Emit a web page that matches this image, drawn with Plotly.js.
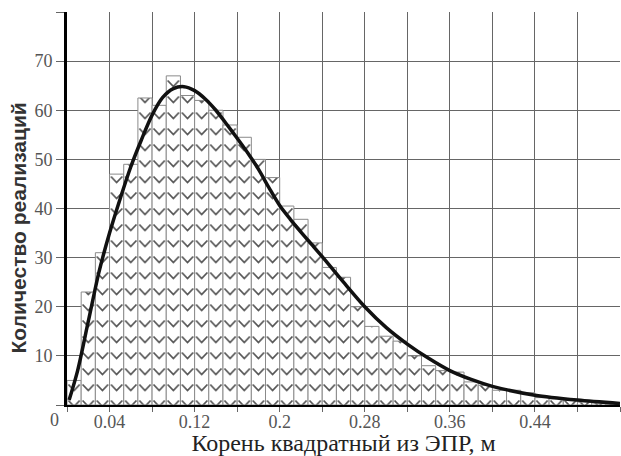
<!DOCTYPE html>
<html>
<head>
<meta charset="utf-8">
<script src="https://cdn.plot.ly/plotly-3.0.1.min.js"></script>
<style>
html,body{margin:0;padding:0;background:#fff;}
#chart{width:621px;height:456px;}
</style>
</head>
<body>
<div id="chart"></div>
<script>
// Histogram: bin width and counts
const binWidth = 0.04 / 3;
const counts = [5, 23, 31, 47, 49, 62.5, 61, 67, 63, 62, 60, 57, 54.5, 50, 46.3, 40.5, 37.8, 33, 28, 26,
                20, 16, 14, 13, 10, 8, 7, 6.7, 4.7, 4, 3, 3, 2.5, 1.5, 1.3, 1, 0.6, 0.4, 0.2];
// Fitted density curve
const curveX = [0.002, 0.01, 0.02, 0.03, 0.04, 0.05, 0.06, 0.07, 0.08, 0.09, 0.10, 0.11, 0.12, 0.13, 0.14,
                0.15, 0.16, 0.17, 0.18, 0.19, 0.20, 0.21, 0.22, 0.23, 0.24, 0.26, 0.28, 0.30, 0.32, 0.34,
                0.36, 0.38, 0.40, 0.44, 0.48, 0.52];
const curveY = [1, 7, 17, 27, 35, 42, 48.5, 54, 59, 62.6, 64.4, 64.8, 64, 62.3, 60,
                57.2, 54.3, 51.3, 48, 44.2, 40.6, 37.8, 35.2, 32.7, 30.2, 25, 20, 15.8, 12.4, 9.5,
                7, 5.2, 3.8, 2, 1, 0.3];
// Axis ticks
const xTickVals = [0, 0.04, 0.08, 0.12, 0.16, 0.2, 0.24, 0.28, 0.32, 0.36, 0.4, 0.44, 0.48, 0.52];
const xTickText = ['', '0.04', '', '0.12', '', '0.2', '', '0.28', '', '0.36', '', '0.44', '', ''];
const yTickVals = [0, 10, 20, 30, 40, 50, 60, 70, 80];
const yTickText = ['', '10', '20', '30', '40', '50', '60', '70', ''];
const xTitle = 'Корень квадратный из ЭПР, м';
const yTitle = 'Количество реализаций';

const binCenters = counts.map((_, i) => (i + 0.5) * binWidth);

const serif = 'Liberation Serif';

const traces = [
  {
    type: 'bar',
    x: binCenters,
    y: counts,
    width: binWidth,
    marker: {
      color: '#ffffff',
      line: {color: '#8a8a8a', width: 1},
      pattern: {shape: '/', size: 14, fgcolor: '#555', bgcolor: '#fff', solidity: 0.2}
    },
    hoverinfo: 'skip'
  },
  {
    type: 'scatter',
    mode: 'lines',
    x: curveX,
    y: curveY,
    line: {color: '#111', width: 3.5, shape: 'spline', smoothing: 0.8},
    hoverinfo: 'skip'
  }
];

const layout = {
  width: 621,
  height: 456,
  margin: {l: 67, r: 1, t: 12, b: 51},
  paper_bgcolor: '#fff',
  plot_bgcolor: '#fff',
  showlegend: false,
  bargap: 0,
  font: {family: serif, size: 18, color: '#555'},
  xaxis: {
    range: [0, 0.52],
    tickmode: 'array',
    tickvals: xTickVals,
    ticktext: xTickText,
    showgrid: true,
    gridcolor: '#666',
    gridwidth: 1,
    zeroline: false,
    showline: true,
    linecolor: '#000',
    linewidth: 2,
    ticks: 'outside',
    ticklen: 5,
    tickcolor: '#666',
    ticklabelstandoff: -6,
    tickfont: {family: serif, size: 18, color: '#555'},
    title: {text: xTitle, font: {family: serif, size: 24, color: '#222'}, standoff: 2}
  },
  yaxis: {
    range: [0, 80],
    tickmode: 'array',
    tickvals: yTickVals,
    ticktext: yTickText,
    showgrid: true,
    gridcolor: '#666',
    gridwidth: 1,
    zeroline: false,
    showline: true,
    linecolor: '#000',
    linewidth: 3,
    ticks: 'outside',
    ticklen: 8,
    tickcolor: '#666',
    tickfont: {family: serif, size: 18, color: '#555'},
    title: {text: ''}
  },
  annotations: [
    {text: '0', xref: 'paper', yref: 'paper', x: -0.022, y: -0.038, xanchor: 'center', yanchor: 'middle',
     showarrow: false, font: {family: serif, size: 18, color: '#555'}},
    {text: yTitle, xref: 'paper', yref: 'paper', x: -0.088, y: 0.45, xanchor: 'center', yanchor: 'middle',
     textangle: -90, showarrow: false,
     font: {family: 'Liberation Sans', size: 21, color: '#333', weight: 'bold'}}
  ]
};

function chevrons() {
  const gd = document.getElementById('chart');
  const xa = gd._fullLayout.xaxis;
  const bw = xa.l2p(binWidth) - xa.l2p(0);
  const h = 16;
  const ns = 'http://www.w3.org/2000/svg';
  gd.querySelectorAll('pattern').forEach(p => {
    p.setAttribute('width', bw);
    p.setAttribute('height', h);
    p.setAttribute('x', 0);
    p.setAttribute('y', 0);
    p.removeAttribute('patternTransform');
    while (p.firstChild) p.removeChild(p.firstChild);
    const r = document.createElementNS(ns, 'rect');
    r.setAttribute('width', bw); r.setAttribute('height', h); r.setAttribute('fill', '#fff');
    p.appendChild(r);
    const path = document.createElementNS(ns, 'path');
    path.setAttribute('d', `M${bw*0.1},${h*0.28} L${bw*0.5},${h*0.66} L${bw*0.9},${h*0.28}`);
    path.setAttribute('fill', 'none');
    path.setAttribute('stroke', '#555');
    path.setAttribute('stroke-width', '1.7');
    p.appendChild(path);
  });
}

Plotly.newPlot('chart', traces, layout, {staticPlot: true}).then(chevrons);
</script>
</body>
</html>
